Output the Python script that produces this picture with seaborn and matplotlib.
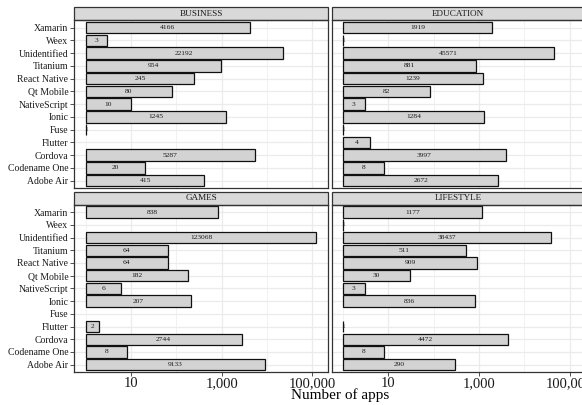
import numpy as np
import pandas as pd
import seaborn as sns
import matplotlib.pyplot as plt
from matplotlib.patches import Rectangle

# Data (counts of apps per framework, top to bottom as shown)
frameworks = ['Xamarin', 'Weex', 'Unidentified', 'Titanium', 'React Native',
              'Qt Mobile', 'NativeScript', 'Ionic', 'Fuse', 'Flutter',
              'Cordova', 'Codename One', 'Adobe Air']
categories = ['BUSINESS', 'EDUCATION', 'GAMES', 'LIFESTYLE']
business = [4166, 3, 22192, 954, 245, 80, 10, 1245, 1, np.nan, 5287, 20, 415]
education = [1919, 1, 45571, 881, 1239, 82, 3, 1284, 1, 4, 3997, 8, 2672]
games = [838, np.nan, 123068, 64, 64, 182, 6, 207, np.nan, 2, 2744, 8, 9133]
lifestyle = [1177, 1, 38437, 511, 909, 30, 3, 836, np.nan, 1, 4472, 8, 290]
x_ticks = [10, 1000, 100000]
x_tick_labels = ['10', '1,000', '100,000']
x_minor = [1, 100, 10000]

values = {'BUSINESS': business, 'EDUCATION': education,
          'GAMES': games, 'LIFESTYLE': lifestyle}
df = pd.concat([pd.DataFrame({'category': c, 'framework': frameworks, 'apps': values[c]})
                for c in categories], ignore_index=True)
df['log_apps'] = np.log10(df['apps'])

sns.set_theme(style='white')
plt.rcParams['font.family'] = ['Liberation Serif', 'DejaVu Serif']

W, H = 582, 405
fig = plt.figure(figsize=(W / 100, H / 100), dpi=100)

# panel rectangles in pixels: left, top, width, height
panel_w = 253.7
rects = {
    'BUSINESS': (74.3, 20.0, panel_w, 168.3),
    'EDUCATION': (331.5, 20.0, panel_w, 168.3),
    'GAMES': (74.3, 204.5, panel_w, 167.8),
    'LIFESTYLE': (331.5, 204.5, panel_w, 167.8),
}
strip_h = 12.7
border = '#333333'

for i, cat in enumerate(categories):
    l, t, w, h = rects[cat]
    ax = fig.add_axes([l / W, 1 - (t + h) / H, w / W, h / H])
    sub = df[df['category'] == cat]
    sns.barplot(data=sub, x='log_apps', y='framework', order=frameworks,
                color='#D3D3D3', saturation=1, edgecolor='#111111',
                linewidth=0.9, width=0.9, errorbar=None, ax=ax)

    # bar labels at geometric middle of each bar
    for j, fw in enumerate(frameworks):
        v = sub.loc[sub['framework'] == fw, 'apps'].values[0]
        if not np.isnan(v):
            ax.text(np.log10(v) / 2, j, f'{int(v)}', ha='center', va='center',
                    fontsize=5.4, color='#1a1a1a')

    lo, hi = 0, np.log10(max(max(df['apps'].dropna()), 1))
    pad = (hi - lo) * 0.05
    ax.set_xlim(lo - pad, hi + pad)
    ax.set_ylim(len(frameworks) - 0.4, -0.6)

    ax.set_xticks(np.log10(x_ticks))
    ax.set_xticks(np.log10(x_minor), minor=True)
    ax.set_xticklabels(x_tick_labels)
    ax.grid(True, which='major', color='#EBEBEB', lw=0.9)
    ax.grid(True, which='minor', axis='x', color='#EBEBEB', lw=0.5)
    ax.set_axisbelow(True)
    ax.set_xlabel('')
    ax.set_ylabel('')

    for s in ax.spines.values():
        s.set_color(border)
        s.set_linewidth(0.9)

    ax.tick_params(axis='x', which='minor', length=0)
    ax.tick_params(axis='y', length=2.75, width=0.6, color=border, pad=1.5,
                   labelsize=7, labelcolor='#1a1a1a', left=(i % 2 == 0),
                   labelleft=(i % 2 == 0))
    ax.tick_params(axis='x', which='major', length=2.75, width=0.6, color=border,
                   pad=0.8, labelsize=10.5, labelcolor='#1a1a1a',
                   bottom=(i >= 2), labelbottom=(i >= 2))

    # facet strip
    sh = strip_h / h
    ax.add_patch(Rectangle((0, 1), 1, sh, transform=ax.transAxes, clip_on=False,
                           facecolor='#D9D9D9', edgecolor=border, lw=0.9))
    ax.text(0.5, 1 + sh / 2, cat, transform=ax.transAxes, ha='center',
            va='center', fontsize=6.6, color='#1a1a1a')

fig.text(340 / W, 1 - 399.5 / H, 'Number of apps', ha='center', va='baseline',
         fontsize=11, color='black')

fig.savefig('out.png', dpi=100)
